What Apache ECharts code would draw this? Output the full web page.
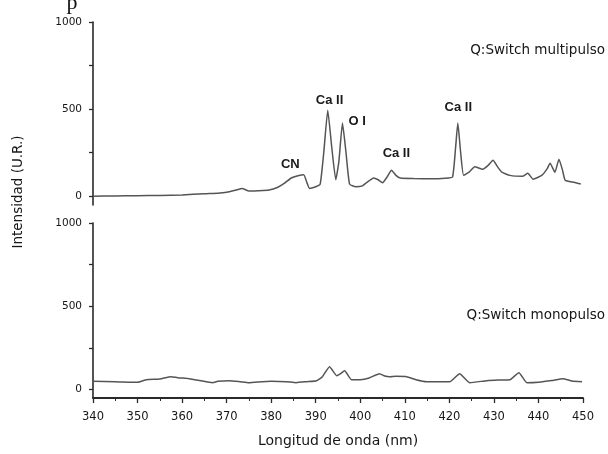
<!DOCTYPE html>
<html><head><meta charset="utf-8">
<script src="https://cdn.jsdelivr.net/npm/echarts@6/dist/echarts.min.js"></script>
<style>html,body{margin:0;padding:0;background:#fff}#c{width:608px;height:454px}</style>
</head><body><div id="c"></div>
<script>
// Top spectrum: Q:Switch multipulso
var multiWave = [340,345,350,355,360,365,368,370,372,373.5,375,377,379.5,381.5,383,384.5,386,387.3,388,388.6,390,391,391.8,392.7,393.6,394.5,395.2,396,396.8,397.6,399,400.5,401.5,403,404,405,406,407,408,409,412,416,419,420.7,421.4,421.9,422.5,423.2,424.5,425.7,427.5,428.8,429.8,430.8,431.8,433.6,436.5,437.6,438.8,440.8,442,442.6,443.7,444.6,445.4,446,448,449.5];
var multiInt  = [0,2,3,5,8,15,18,23,35,45,30,32,36,52,75,105,118,124,80,45,55,70,250,494,280,95,200,420,250,70,55,60,80,105,95,78,110,150,120,105,102,100,103,110,280,420,260,120,140,170,155,180,207,170,138,120,115,132,98,121,160,190,138,213,150,92,80,70];
// Bottom spectrum: Q:Switch monopulso
var monoWave = [340,345,350,352,355,357.5,359,361.6,364,366.8,368,370.6,373,375,378,380,383.4,385.6,388,390.2,391.5,393.1,394.7,395.5,396.5,398,400,402,404.3,405.5,406.6,408,410.4,412.5,414.9,418,420.1,422.3,424.6,428.4,431,433.6,435.6,437.4,440,443,445.5,447.5,449.8];
var monoInt  = [50,48,44,60,64,78,72,66,55,42,50,54,48,42,48,50,48,42,48,54,78,138,84,95,114,60,60,70,96,82,78,80,78,60,48,48,48,96,42,54,58,60,102,42,45,55,66,52,48];
// Peak annotations (top panel): label, wavelength, intensity position
var peakLabels = ['CN','Ca II','O I','Ca II','Ca II'];
var peakWave   = [384.3,393.1,399.3,408.1,422.0];
var peakPos    = [184,552,431,247,511];
var yTickLabels = [0,500,1000];
var yTicks = [0,250,500,750,1000];

function pairs(w,v){return w.map(function(x,i){return [x,v[i]];});}
var font = '"DejaVu Sans", sans-serif';
var lfont = '"Liberation Sans", Arial, sans-serif';
var axisCol = '#2a2a2a';
var txtCol = '#161616';
var chart = echarts.init(document.getElementById('c'));
var markData = peakLabels.map(function(n,i){
  return {name:n, coord:[peakWave[i], peakPos[i]]};
});
function yAx(idx){
  return {type:'value', gridIndex:idx, min:-50, max:1000,
    axisLine:{show:true,onZero:false,lineStyle:{color:axisCol,width:1.6}},
    axisTick:{show:true,length:4,customValues:yTicks,lineStyle:{color:axisCol,width:1.3}},
    axisLabel:{show:true,customValues:yTickLabels,formatter:function(v){return String(v);},fontSize:10.5,color:txtCol,fontFamily:font,margin:11},
    splitLine:{show:false}};
}
chart.setOption({
  animation:false,
  backgroundColor:'#fff',
  grid:[{left:93,right:25,top:22,height:183},{left:93,right:25,top:223,height:175}],
  xAxis:[
    {type:'value',gridIndex:0,min:340,max:450,interval:10,show:false},
    {type:'value',gridIndex:1,min:340,max:450,interval:10,
     axisLine:{show:true,onZero:false,lineStyle:{color:axisCol,width:2}},
     axisTick:{show:true,length:5,lineStyle:{color:axisCol,width:1.3}},
     minorTick:{show:true,splitNumber:2,length:3,lineStyle:{color:axisCol}},
     axisLabel:{fontSize:11.5,color:txtCol,fontFamily:font,margin:13},
     splitLine:{show:false},
     name:'Longitud de onda (nm)',nameLocation:'middle',nameGap:36,
     nameTextStyle:{fontSize:14,color:txtCol,fontFamily:font}}
  ],
  yAxis:[yAx(0),yAx(1)],
  graphic:[
    {type:'text',rotation:Math.PI/2,x:18,y:192,
     style:{text:'Intensidad (U.R.)',font:'13.5px '+font,fill:txtCol,align:'center',verticalAlign:'middle'}},
    {type:'text',x:605,y:50,style:{text:'Q:Switch multipulso',font:'13.5px '+font,fill:txtCol,align:'right',verticalAlign:'middle'}},
    {type:'text',x:605,y:315,style:{text:'Q:Switch monopulso',font:'13.5px '+font,fill:txtCol,align:'right',verticalAlign:'middle'}},
    {type:'text',x:72,y:-8,style:{text:'p',font:'22px "Liberation Serif", serif',fill:'#111',align:'center',verticalAlign:'top'}}
  ],
  series:[
    {type:'line',xAxisIndex:0,yAxisIndex:0,data:pairs(multiWave,multiInt),showSymbol:false,smooth:0.15,
     lineStyle:{color:'#555',width:1.5},
     markPoint:{symbol:'circle',symbolSize:0,data:markData,
       label:{show:true,position:'inside',formatter:'{b}',fontSize:13,fontWeight:'bold',color:'#1a1a1a',fontFamily:lfont}}},
    {type:'line',xAxisIndex:1,yAxisIndex:1,data:pairs(monoWave,monoInt),showSymbol:false,smooth:0.15,
     lineStyle:{color:'#555',width:1.5}}
  ]
});
</script></body></html>
